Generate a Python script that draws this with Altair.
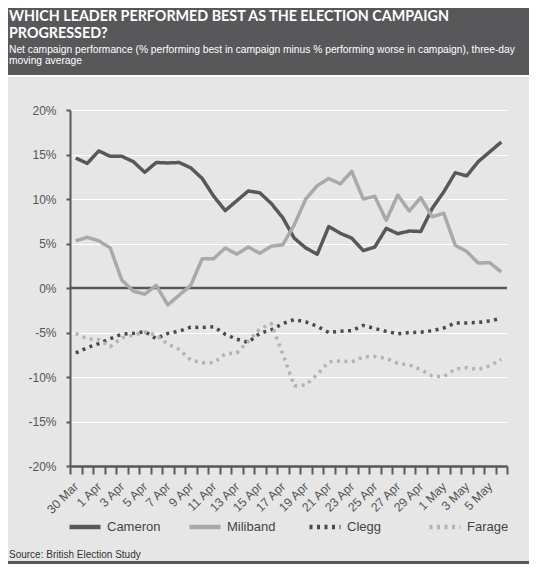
import altair as alt
import pandas as pd

dates = ["30 Mar", "31 Mar", "1 Apr", "2 Apr", "3 Apr", "4 Apr", "5 Apr", "6 Apr",
         "7 Apr", "8 Apr", "9 Apr", "10 Apr", "11 Apr", "12 Apr", "13 Apr", "14 Apr",
         "15 Apr", "16 Apr", "17 Apr", "18 Apr", "19 Apr", "20 Apr", "21 Apr", "22 Apr",
         "23 Apr", "24 Apr", "25 Apr", "26 Apr", "27 Apr", "28 Apr", "29 Apr", "30 Apr",
         "1 May", "2 May", "3 May", "4 May", "5 May", "6 May"]
shown_labels = dates[::2]

leaders = ["Cameron", "Miliband", "Clegg", "Farage"]

cameron = [14.6, 14.0, 15.4, 14.8, 14.8, 14.2, 13.0, 14.1, 14.05, 14.1, 13.5, 12.3,
           10.3, 8.7, 9.8, 10.9, 10.7, 9.5, 7.9, 5.6, 4.5, 3.8, 6.9, 6.15, 5.6, 4.2,
           4.6, 6.7, 6.1, 6.4, 6.35, 8.95, 10.8, 12.95, 12.6, 14.2, 15.3, 16.4]
miliband = [5.3, 5.7, 5.3, 4.5, 0.9, -0.35, -0.7, 0.3, -1.9, -0.8, 0.3, 3.3,
            3.3, 4.5, 3.8, 4.6, 3.9, 4.7, 4.85, 7.1, 10.0, 11.5, 12.3, 11.7, 13.1, 10.0,
            10.3, 7.6, 10.45, 8.65, 10.15, 8.0, 8.4, 4.8, 4.1, 2.8, 2.85, 1.8]
clegg = [-7.3, -6.7, -6.25, -5.7, -5.2, -5.1, -4.9, -5.7, -5.1, -4.85, -4.4, -4.45,
         -4.35, -5.2, -5.75, -6.1, -5.1, -4.7, -4.0, -3.55, -3.8, -4.3, -5.0, -4.85,
         -4.8, -4.2, -4.55, -4.87, -5.15, -5.0, -4.97, -4.8, -4.5, -3.93, -3.93, -3.87,
         -3.7, -3.4]
farage = [-5.1, -5.7, -5.8, -6.6, -5.6, -5.3, -4.95, -5.3, -6.3, -6.9, -8.1, -8.4,
          -8.4, -7.4, -7.3, -6.0, -4.6, -4.0, -7.4, -11.0, -10.9, -9.7, -8.3, -8.2,
          -8.3, -7.75, -7.7, -7.9, -8.45, -8.65, -9.15, -9.9, -9.95, -9.1, -8.95,
          -9.15, -8.75, -8.0]

y_ticks = [-20, -15, -10, -5, 0, 5, 10, 15, 20]

title_1 = "WHICH LEADER PERFORMED BEST AS THE ELECTION CAMPAIGN"
title_2 = "PROGRESSED?"
subtitle_1 = ("Net campaign performance (% performing best in campaign minus % "
              "performing worse in campaign), three-day")
subtitle_2 = "moving average"
source = "Source: British Election Study"

colors = ["#58585a", "#a9a9ab", "#4a4a4c", "#b3b3b5"]
dashes = [[1, 0], [1, 0], [3, 4.5], [3, 4.5]]

rows = []
for name, vals in zip(leaders, [cameron, miliband, clegg, farage]):
    for d, v in zip(dates, vals):
        rows.append({"leader": name, "date": d, "value": v})
df = pd.DataFrame(rows)

W, H = 437, 356
DARK = "#58585a"
BG = "#e6e6e7"
one = pd.DataFrame({"a": [0]})

label_list = "[" + ",".join("'" + s + "'" for s in shown_labels) + "]"

header = alt.Chart(one).mark_rect(color=DARK).encode(
    x=alt.value(-62), x2=alt.value(459), y=alt.value(-102), y2=alt.value(-35))
stripe = alt.Chart(one).mark_rect(color="white").encode(
    x=alt.value(-62), x2=alt.value(459), y=alt.value(-35), y2=alt.value(-33))
bottom_bar = alt.Chart(one).mark_rect(color=DARK).encode(
    x=alt.value(-62), x2=alt.value(459), y=alt.value(451), y2=alt.value(454))


def txt(s, x, y, size, color, weight="normal", font="Liberation Sans"):
    return alt.Chart(one).mark_text(
        align="left", baseline="alphabetic", fontSize=size, fontWeight=weight,
        font=font, color=color).encode(x=alt.value(x), y=alt.value(y), text=alt.value(s))


t1 = txt(title_1, -61, -89.3, 14.3, "white", "bold", "Lato")
t2 = txt(title_2, -61, -71.7, 14.3, "white", "bold", "Lato")
s1 = txt(subtitle_1, -61, -56.7, 10.25, "white")
s2 = txt(subtitle_2, -61, -45.7, 10.25, "white")
src = txt(source, -61, 448, 10, "#333333")

zero = alt.Chart(one).mark_rule(color=DARK, strokeWidth=2.5).encode(
    y=alt.datum(0, scale=alt.Scale(domain=[-20, 20])))

legend_opts = dict(title=None, orient="none", legendX=-3, legendY=399,
                   direction="horizontal", columns=4, gridAlign="all",
                   columnPadding=19, symbolType="stroke", symbolSize=961,
                   symbolStrokeWidth=4.5, labelFontSize=13,
                   labelFont="Liberation Sans", labelColor="#444444", labelOffset=4)

lines = alt.Chart(df).mark_line(strokeWidth=3.5, strokeJoin="round").encode(
    x=alt.X("date:N", sort=dates, title=None,
            scale=alt.Scale(type="band", domain=dates, paddingInner=0, paddingOuter=0),
            axis=alt.Axis(tickBand="extent", labelAngle=-45, labelAlign="right",
                          labelBaseline="middle", labelFontSize=12.3, labelColor="#555555",
                          labelFont="Liberation Sans", labelPadding=10,
                          labelExpr="indexof(" + label_list + ", datum.value) >= 0 ? datum.value : ''",
                          tickSize=8, tickWidth=2, tickColor=DARK, domainColor=DARK,
                          domainWidth=2.5, grid=False, labelOverlap=False)),
    y=alt.Y("value:Q", title=None, scale=alt.Scale(domain=[-20, 20], nice=False),
            axis=alt.Axis(values=y_ticks, labelExpr="datum.value + '%'", labelFontSize=12,
                          labelColor="#555555", labelFont="Liberation Sans", labelPadding=10,
                          tickSize=4, tickWidth=2, tickColor=DARK, domainColor=DARK,
                          domainWidth=2, grid=True, gridColor="white", gridWidth=1.2)),
    color=alt.Color("leader:N", sort=leaders,
                    scale=alt.Scale(domain=leaders, range=colors),
                    legend=alt.Legend(**legend_opts)),
    strokeDash=alt.StrokeDash("leader:N", sort=leaders,
                              scale=alt.Scale(domain=leaders, range=dashes),
                              legend=alt.Legend(**legend_opts)),
)

chart = alt.layer(header, stripe, bottom_bar, t1, t2, s1, s2, src, zero, lines).properties(
    width=W, height=H, padding=0, background=BG
).configure_view(stroke=None, fill=BG)

chart.save("out.html", embed_options={"renderer": "svg", "actions": False})
